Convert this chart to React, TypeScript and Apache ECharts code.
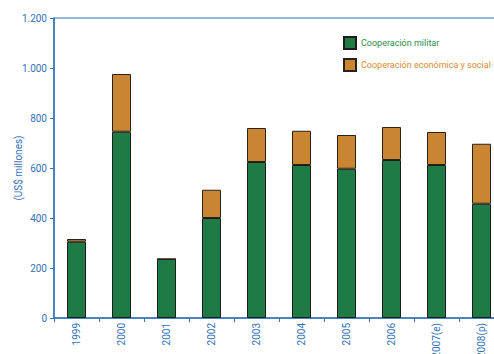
import React, { useEffect, useRef } from "react";
import * as echarts from "echarts";

const years = ["1999", "2000", "2001", "2002", "2003", "2004", "2005", "2006", "2007(e)", "2008(p)"];
const militar = [305, 745, 236, 400, 624, 612, 597, 632, 612, 457];
const economica = [11, 231, 0, 113, 136, 137, 135, 132, 132, 240];
const seriesNames = ["Cooperación militar", "Cooperación económica y social"];

const BLUE = "#3571b8";
const GREEN = "#1f7b45";
const ORANGE = "#c98532";
const FONT = "Roboto";

export default function App() {
  const ref = useRef<HTMLDivElement>(null);
  useEffect(() => {
    if (!ref.current) return;
    const chart = echarts.init(ref.current, undefined, { renderer: "svg" });
    chart.setOption({
      animation: false,
      grid: {
        left: 54,
        top: 18,
        width: 450,
        height: 300,
        show: true,
        borderColor: BLUE,
        borderWidth: 1,
        containLabel: false,
        outerBoundsMode: "none",
      },
      legend: {
        orient: "vertical",
        left: 343,
        top: 36,
        padding: 0,
        icon: "rect",
        itemWidth: 12,
        itemHeight: 12,
        itemGap: 8,
        textStyle: { fontFamily: FONT, fontSize: 9 },
        data: [
          { name: seriesNames[0], icon: "rect", textStyle: { color: "#2d8a4e", fontFamily: FONT, fontSize: 9 } },
          { name: seriesNames[1], icon: "rect", textStyle: { color: "#d68c3a", fontFamily: FONT, fontSize: 9 } },
        ],
      },
      xAxis: {
        type: "category",
        data: years,
        axisLine: { lineStyle: { color: BLUE, width: 1.5 } },
        axisTick: { show: true, length: 4, lineStyle: { color: BLUE } },
        axisLabel: {
          rotate: 90,
          color: BLUE,
          fontFamily: FONT,
          fontSize: 10,
          margin: 5,
        },
      },
      yAxis: {
        type: "value",
        min: 0,
        max: 1200,
        interval: 200,
        name: "(US$ millones)",
        nameLocation: "middle",
        nameGap: 31,
        nameMoveOverlap: false,
        nameTextStyle: { color: BLUE, fontFamily: FONT, fontSize: 10 },
        axisLine: { show: true, lineStyle: { color: BLUE, width: 1.5 } },
        axisTick: { show: true, length: 4, lineStyle: { color: BLUE } },
        splitLine: { show: false },
        axisLabel: {
          color: BLUE,
          fontFamily: FONT,
          fontSize: 10,
          margin: 7,
          formatter: (v: number) => (v >= 1000 ? (v / 1000).toFixed(3) : String(v)),
        },
      },
      series: [
        {
          name: seriesNames[0],
          type: "bar",
          stack: "total",
          barWidth: 19,
          data: militar,
          itemStyle: { color: GREEN, borderColor: "#1c1c1c", borderWidth: 1 },
        },
        {
          name: seriesNames[1],
          type: "bar",
          stack: "total",
          barWidth: 19,
          data: economica,
          itemStyle: { color: ORANGE, borderColor: "#2a2118", borderWidth: 1 },
        },
      ],
    });
    return () => chart.dispose();
  }, []);
  return <div ref={ref} style={{ width: 494, height: 354, position: "absolute", left: 0, top: 0 }} />;
}
